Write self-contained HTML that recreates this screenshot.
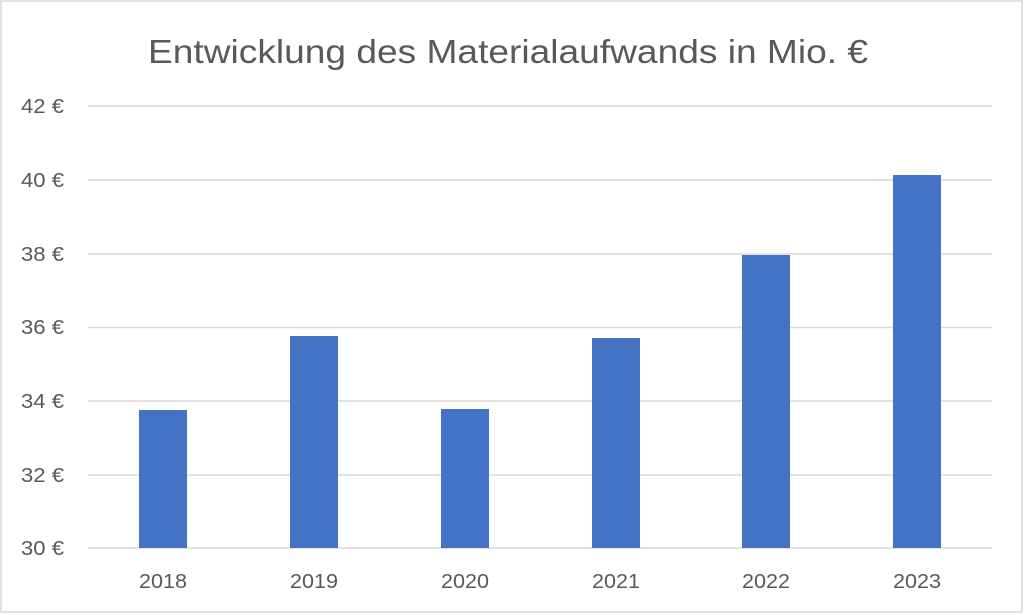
<!DOCTYPE html><html><head><meta charset="utf-8"><style>body{margin:0;background:#fff}svg{display:block}</style></head><body>
<svg width="1024" height="615" xmlns="http://www.w3.org/2000/svg" font-family="Liberation Sans, sans-serif">
<rect x="1" y="1" width="1021" height="611" fill="#fff" stroke="#d9d9d9" stroke-width="1.5"/>
<text x="148" y="63" textLength="720" lengthAdjust="spacingAndGlyphs" font-size="33" fill="#595959">Entwicklung des Materialaufwands in Mio. €</text>
<g stroke="#d9d9d9" stroke-width="1.5">
<line x1="88" x2="992" y1="106" y2="106"/><line x1="88" x2="992" y1="180" y2="180"/>
<line x1="88" x2="992" y1="254" y2="254"/><line x1="88" x2="992" y1="327.5" y2="327.5"/>
<line x1="88" x2="992" y1="401" y2="401"/><line x1="88" x2="992" y1="475" y2="475"/>
<line x1="88" x2="992" y1="548" y2="548"/></g>
<g font-size="20" fill="#595959">
<text x="21" y="113" textLength="43" lengthAdjust="spacingAndGlyphs">42 €</text><text x="21" y="187" textLength="43" lengthAdjust="spacingAndGlyphs">40 €</text><text x="21" y="261" textLength="43" lengthAdjust="spacingAndGlyphs">38 €</text>
<text x="21" y="334" textLength="43" lengthAdjust="spacingAndGlyphs">36 €</text><text x="21" y="408" textLength="43" lengthAdjust="spacingAndGlyphs">34 €</text><text x="21" y="482" textLength="43" lengthAdjust="spacingAndGlyphs">32 €</text><text x="21" y="555" textLength="43" lengthAdjust="spacingAndGlyphs">30 €</text></g>
<g fill="#4472c4">
<rect x="139" y="410" width="48" height="138"/><rect x="290" y="336" width="48" height="212"/>
<rect x="441" y="409" width="48" height="139"/><rect x="592" y="338" width="48" height="210"/>
<rect x="742" y="255" width="48" height="293"/><rect x="893" y="175" width="48" height="373"/></g>
<g font-size="20" fill="#595959">
<text x="139" y="588" textLength="48" lengthAdjust="spacingAndGlyphs">2018</text><text x="290" y="588" textLength="48" lengthAdjust="spacingAndGlyphs">2019</text><text x="441" y="588" textLength="48" lengthAdjust="spacingAndGlyphs">2020</text>
<text x="592" y="588" textLength="48" lengthAdjust="spacingAndGlyphs">2021</text><text x="742" y="588" textLength="48" lengthAdjust="spacingAndGlyphs">2022</text><text x="893" y="588" textLength="48" lengthAdjust="spacingAndGlyphs">2023</text></g>
</svg></body></html>
